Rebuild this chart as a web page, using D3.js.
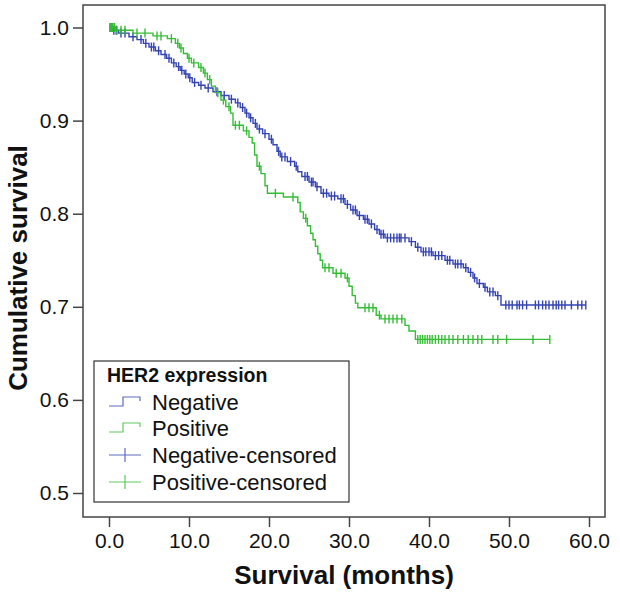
<!DOCTYPE html>
<html><head><meta charset="utf-8">
<script src="https://cdn.jsdelivr.net/npm/d3@7"></script>
<style>body{margin:0;background:#fff}svg{display:block}</style>
</head><body>
<svg id="c" width="620" height="592"></svg>
<script>
const xTicks = [0, 10, 20, 30, 40, 50, 60];
const yTicks = [0.5, 0.6, 0.7, 0.8, 0.9, 1.0];
const legendTitle = "HER2 expression";
const legendLabels = ["Negative", "Positive", "Negative-censored", "Positive-censored"];

const negTimes = [0.5,1.2,2.5,3.5,4.3,5.0,5.8,6.5,7.2,7.8,8.4,8.9,9.4,9.9,10.4,11.2,12.0,13.0,14.0,15.0,15.8,16.4,17.0,17.5,18.0,18.5,19.2,20.0,20.5,21.0,21.4,22.3,23.2,23.6,24.1,25.0,25.8,26.5,27.5,28.6,29.5,30.2,31.0,31.8,32.5,33.2,33.8,34.5,37.5,38.3,39.0,40.5,42.0,43.0,44.3,44.9,45.5,46.0,46.8,47.3,48.3,49.0];
const negSurv = [0.997,0.994,0.990,0.987,0.983,0.979,0.975,0.971,0.967,0.962,0.958,0.954,0.950,0.946,0.941,0.938,0.935,0.931,0.927,0.923,0.919,0.914,0.908,0.903,0.897,0.891,0.886,0.880,0.874,0.867,0.861,0.856,0.851,0.845,0.840,0.834,0.829,0.822,0.819,0.816,0.810,0.804,0.798,0.794,0.789,0.783,0.778,0.774,0.770,0.764,0.759,0.755,0.750,0.746,0.742,0.737,0.731,0.725,0.721,0.716,0.712,0.702];
const negCensored = [0.2,0.4,0.6,0.9,1.5,2.0,3.0,4.0,4.6,5.3,5.6,6.2,7.0,7.5,8.1,8.7,9.1,9.6,10.1,10.7,11.5,12.4,13.5,14.4,15.3,16.1,16.7,17.2,17.7,18.3,18.8,19.5,20.3,21.2,21.6,22.0,22.7,23.4,24.5,24.8,25.3,25.5,26.0,26.8,27.2,27.8,28.2,29.0,29.3,29.8,30.5,30.8,31.3,32.0,32.3,32.8,33.5,34.0,34.3,34.8,35.2,35.6,36.0,36.3,36.5,37.0,37.8,38.6,39.3,39.6,40.0,40.3,40.8,41.2,41.6,42.3,42.6,43.3,43.6,44.0,44.6,45.2,45.7,46.3,47.0,47.6,48.0,48.6,49.6,50.0,50.4,51.0,51.3,51.7,52.2,53.3,53.7,54.2,54.6,55.0,55.5,55.9,56.2,56.6,57.0,57.8,58.6,59.1,59.6];

const posTimes = [0.8,3.0,5.5,7.3,8.3,8.8,9.3,9.8,10.3,11.2,11.8,12.3,12.8,13.3,14.0,14.6,15.2,15.5,16.8,17.5,17.9,18.2,18.5,19.0,19.5,19.8,21.8,23.6,23.9,24.3,24.8,25.2,25.5,25.8,26.1,26.4,26.7,28.0,29.5,30.0,30.4,30.8,31.1,33.4,34.0,37.0,37.5,38.3];
const posSurv = [0.997,0.994,0.991,0.988,0.983,0.978,0.972,0.967,0.962,0.957,0.951,0.944,0.937,0.930,0.922,0.915,0.908,0.895,0.889,0.882,0.876,0.863,0.851,0.843,0.830,0.822,0.818,0.812,0.802,0.795,0.787,0.779,0.772,0.765,0.757,0.750,0.742,0.736,0.731,0.722,0.712,0.704,0.699,0.691,0.687,0.680,0.674,0.665];
const posCensored = [0.1,0.2,0.4,0.5,0.7,1.0,1.5,2.0,3.5,4.5,6.0,6.5,7.8,8.6,9.0,10.0,10.6,11.5,12.0,12.6,13.6,14.3,15.0,15.8,16.3,17.2,18.8,20.8,23.0,24.6,27.0,27.5,28.4,29.0,29.8,32.0,32.5,33.0,33.8,34.5,35.0,35.5,36.0,36.6,38.6,38.9,39.2,39.5,39.8,40.1,40.4,40.8,41.2,41.6,42.0,42.5,43.0,43.6,44.3,44.9,45.5,46.1,46.6,48.0,48.6,49.7,53.0,55.1];

const BLUE = "#3444b2", GREEN = "#36bd36";
const svg = d3.select("#c");
const FONT = "'Liberation Sans', Arial, sans-serif";

const frame = {l: 83, r: 605, t: 5, b: 517};
const x = d3.scaleLinear().domain([0, 60]).range([109, 589]);
const y = d3.scaleLinear().domain([0.5, 1.0]).range([493, 27.5]);

svg.append("rect").attr("x", frame.l).attr("y", frame.t)
  .attr("width", frame.r - frame.l).attr("height", frame.b - frame.t)
  .attr("fill", "none").attr("stroke", "#444").attr("stroke-width", 1.5);

const yAxis = d3.axisLeft(y).tickValues(yTicks).tickFormat(d3.format(".1f")).tickSize(10).tickPadding(4);
const gy = svg.append("g").attr("transform", `translate(${frame.l},0)`).call(yAxis);
gy.select(".domain").remove();
const xAxis = d3.axisBottom(x).tickValues(xTicks).tickFormat(d3.format(".1f")).tickSize(10).tickPadding(6);
const gx = svg.append("g").attr("transform", `translate(0,${frame.b})`).call(xAxis);
gx.select(".domain").remove();
[gx, gy].forEach(g => {
  g.selectAll("line").attr("stroke", "#444").attr("stroke-width", 1.5);
  g.selectAll("text").attr("font-family", FONT).attr("font-size", 21).attr("fill", "#111");
});

function stepData(times, surv, censored) {
  const pts = [[0, 1]];
  times.forEach((t, i) => pts.push([t, surv[i]]));
  const last = Math.max(d3.max(censored), d3.max(times));
  pts.push([last, surv[surv.length - 1]]);
  return pts;
}
function survAt(times, surv, t) {
  let s = 1;
  for (let i = 0; i < times.length; i++) if (times[i] <= t) s = surv[i];
  return s;
}
const line = d3.line().x(d => x(d[0])).y(d => y(d[1])).curve(d3.curveStepAfter);

function drawSeries(times, surv, censored, color) {
  svg.append("path").datum(stepData(times, surv, censored))
    .attr("d", line).attr("fill", "none").attr("stroke", color).attr("stroke-width", 1.4);
  svg.append("g").selectAll("line").data(censored).join("line")
    .attr("x1", d => x(d)).attr("x2", d => x(d))
    .attr("y1", d => y(survAt(times, surv, d)) - 4.5)
    .attr("y2", d => y(survAt(times, surv, d)) + 4.5)
    .attr("stroke", color).attr("stroke-width", 1.4);
}
drawSeries(negTimes, negSurv, negCensored, BLUE);
drawSeries(posTimes, posSurv, posCensored, GREEN);

svg.append("text").attr("x", 344).attr("y", 584).attr("text-anchor", "middle")
  .attr("font-family", FONT).attr("font-weight", "bold").attr("font-size", 26).attr("fill", "#111")
  .text("Survival (months)");
svg.append("text").attr("transform", "translate(27,268) rotate(-90)").attr("text-anchor", "middle")
  .attr("font-family", FONT).attr("font-weight", "bold").attr("font-size", 26).attr("fill", "#111")
  .text("Cumulative survival");

const lg = svg.append("g");
lg.append("rect").attr("x", 94).attr("y", 361).attr("width", 255).attr("height", 141)
  .attr("fill", "#fff").attr("stroke", "#333").attr("stroke-width", 1.2);
lg.append("text").attr("x", 107).attr("y", 382).attr("font-family", FONT).attr("font-weight", "bold")
  .attr("font-size", 19.5).attr("fill", "#111").text(legendTitle);
const rowY = [402, 428, 455, 482];
const colors = [BLUE, GREEN, BLUE, GREEN];
legendLabels.forEach((lab, i) => {
  const cy = rowY[i], c = colors[i];
  if (i < 2) {
    lg.append("path").attr("d", `M109,${cy+4}H123V${cy-5}H140V${cy-1}`)
      .attr("fill", "none").attr("stroke", c).attr("stroke-width", 1.2).attr("opacity", 0.8);
  } else {
    lg.append("path").attr("d", `M109,${cy}H141M125,${cy-7}V${cy+7}`)
      .attr("fill", "none").attr("stroke", c).attr("stroke-width", 1.2).attr("opacity", 0.8);
  }
  lg.append("text").attr("x", 152).attr("y", cy + 7.5).attr("font-family", FONT)
    .attr("font-size", 22).attr("fill", "#111").text(lab);
});
</script>
</body></html>
